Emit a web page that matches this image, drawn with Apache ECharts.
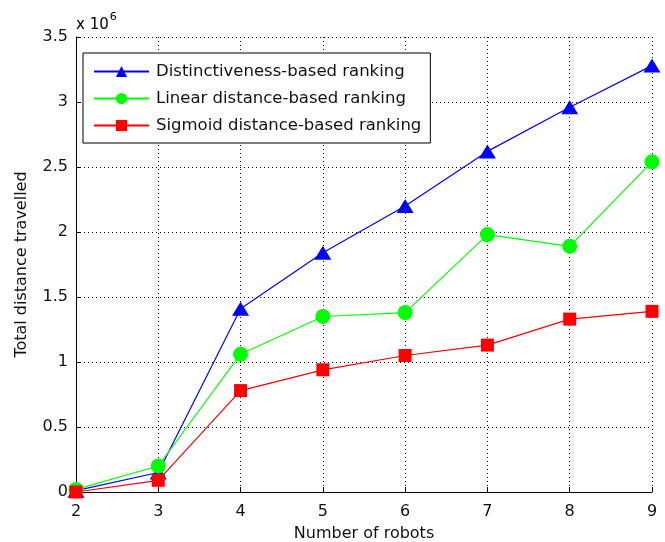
<!DOCTYPE html>
<html>
<head>
<meta charset="utf-8">
<script src="https://cdn.jsdelivr.net/npm/echarts@6/dist/echarts.min.js"></script>
<style>
  html, body { margin: 0; padding: 0; background: #fff; }
  #chart { width: 665px; height: 542px; }
</style>
</head>
<body>
<div id="chart"></div>
<script>
// data (y values in units of 10^6)
var robots = [2, 3, 4, 5, 6, 7, 8, 9];
var distinctiveness = [0.01, 0.15, 1.41, 1.84, 2.20, 2.62, 2.96, 3.28];
var linearDist = [0.02, 0.20, 1.06, 1.35, 1.38, 1.98, 1.89, 2.54];
var sigmoidDist = [0.0, 0.09, 0.78, 0.94, 1.05, 1.13, 1.33, 1.39];
var yTicks = [0, 0.5, 1, 1.5, 2, 2.5, 3, 3.5];

function pairs(ys) {
  return robots.map(function (x, i) { return [x, ys[i]]; })
}

var font = 'DejaVu Sans';
var dotted = { color: '#000', width: 1, type: [1, 3] };

var chart = echarts.init(document.getElementById('chart'))
var option = {
  backgroundColor: '#fff',
  animation: false,
  textStyle: { fontFamily: font },
  grid: { left: 76, right: 13, top: 37, bottom: 50, containLabel: false, outerBoundsMode: 'none' },
  legend: {
    left: 83, top: 53,
    orient: 'vertical',
    backgroundColor: '#fff',
    borderColor: '#000',
    borderWidth: 1,
    borderRadius: 0,
    padding: [10, 9, 9, 10],
    itemWidth: 55,
    itemHeight: 14,
    itemGap: 10,
    textStyle: { fontFamily: font, fontSize: 16.5, color: '#111', padding: [0, 0, 0, 2] },
    data: ['Distinctiveness-based ranking', 'Linear distance-based ranking', 'Sigmoid distance-based ranking']
  },
  xAxis: {
    type: 'value',
    min: 2, max: 9, interval: 1,
    name: 'Number of robots',
    nameLocation: 'middle',
    nameGap: 34,
    nameTextStyle: { fontFamily: font, fontSize: 16, color: '#111' },
    axisLine: { lineStyle: { color: '#000', width: 1 } },
    axisTick: { inside: true, length: 5, lineStyle: { color: '#000' } },
    axisLabel: { fontFamily: font, fontSize: 16, color: '#111', margin: 12 },
    splitLine: { show: true, lineStyle: dotted }
  },
  yAxis: {
    type: 'value',
    min: 0, max: 3.5, interval: 0.5,
    name: 'Total distance travelled',
    nameLocation: 'middle',
    nameGap: 46,
    nameTextStyle: { fontFamily: font, fontSize: 16, color: '#111' },
    axisLine: { show: true, lineStyle: { color: '#000', width: 1 } },
    axisTick: { show: true, inside: true, length: 5, lineStyle: { color: '#000' } },
    axisLabel: {
      fontFamily: font, fontSize: 16, color: '#111', margin: 8,
      formatter: function (v) { return yTicks.indexOf(v) >= 0 ? String(v) : ''; }
    },
    splitLine: { show: true, lineStyle: dotted }
  },
  graphic: [{
    type: 'text',
    left: 76, top: 12,
    style: {
      text: '{a|x 10}{b|6}',
      rich: {
        a: { fontFamily: font, fontSize: 15, color: '#111', padding: [8, 0, 0, 0] },
        b: { fontFamily: font, fontSize: 11, color: '#111', padding: [0, 0, 8, 1] }
      }
    }
  }],
  series: [{
    name: 'Distinctiveness-based ranking',
    type: 'line',
    symbol: 'triangle',
    symbolSize: [17, 14],
    lineStyle: { width: 1.2, color: '#0000ff' },
    itemStyle: { color: '#0000ff' },
    data: pairs(distinctiveness)
  }, {
    name: 'Linear distance-based ranking',
    type: 'line',
    symbol: 'circle',
    symbolSize: 15,
    lineStyle: { width: 1.2, color: '#00ff00' },
    itemStyle: { color: '#00ff00' },
    data: pairs(linearDist)
  }, {
    name: 'Sigmoid distance-based ranking',
    type: 'line',
    symbol: 'rect',
    symbolSize: 13,
    lineStyle: { width: 1.2, color: '#ff0000' },
    itemStyle: { color: '#ff0000' },
    data: pairs(sigmoidDist)
  }]
}
chart.setOption(option)
</script>
</body>
</html>
